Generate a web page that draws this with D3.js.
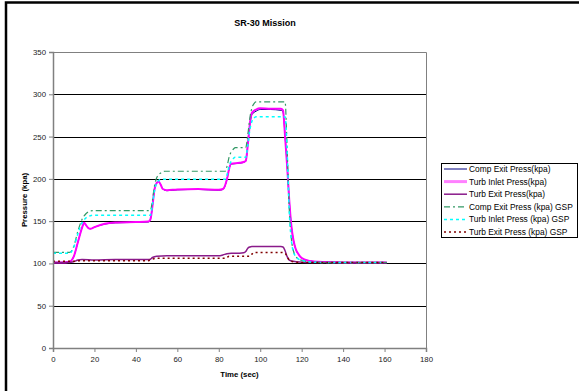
<!DOCTYPE html>
<html>
<head>
<meta charset="utf-8">
<script src="https://cdn.jsdelivr.net/npm/d3@7"></script>
<style>
  html, body { margin: 0; padding: 0; background: #fff; }
  svg { display: block; font-family: "Liberation Sans", Arial, sans-serif; }
</style>
</head>
<body>
<div id="chart"></div>
<script>
// Values
const mainTime = [0, 4, 8, 10, 12, 14, 15, 16, 17, 18, 20, 25, 30, 40, 46, 47, 48, 49, 50, 51,
	52, 53, 55, 60, 70, 80, 82, 84, 85, 86, 90, 92, 93, 94, 95, 96, 98, 100, 105, 110,
	111, 112, 113, 114, 115, 116, 117, 119, 121, 124, 128, 135, 145, 161];
const turbInlet = [101, 101, 102, 108, 125, 142, 148, 145, 142, 141, 143, 147, 148.5, 149, 149.5, 152, 168, 188, 195, 197,
	193, 188, 186.5, 187.5, 188, 187, 188, 200, 212, 218, 219, 220, 221, 240, 265, 278, 282, 283.5, 283, 283,
	281, 250, 215, 175, 145, 128, 118, 109, 105, 103, 102, 101.5, 101, 101];
const compExit = [101, 101, 102, 108, 125, 142, 147.5, 145, 142, 141, 143, 146.5, 148, 148.5, 149, 152, 168, 188, 194.5, 196.5,
	193, 188, 186, 187, 187.5, 186.5, 187.5, 200, 212, 217.5, 218.5, 219.5, 221, 240, 264, 276, 280, 282, 282, 281,
	279, 250, 215, 175, 145, 128, 118, 109, 105, 103, 102, 101.5, 101, 101];

const exitTime = [0, 6, 10, 12, 14, 20, 30, 40, 46, 47, 48, 50, 55, 70, 80, 82, 84, 86, 90, 92,
	93, 94, 95, 96, 100, 105, 110, 111, 112, 113, 114, 116, 120, 124, 130, 140, 161];
const turbExit = [101, 101, 102, 104, 104.5, 104, 104.5, 104.5, 104.5, 105, 107, 108.5, 109, 109, 109, 110, 111.5, 112, 112, 112.5,
	114, 118, 119.5, 120, 120, 120, 120, 119.5, 115, 108, 104, 102.5, 101.5, 101, 101, 101, 101];

const gspTime = [0, 8, 10, 12, 14, 16, 18, 20, 30, 47, 48, 49, 50, 51, 52, 54, 70, 83, 84, 85,
	86, 87, 88, 93, 94, 95, 96, 97, 98, 105, 112, 113, 114, 115, 116, 118, 121, 125, 135, 161];
const compExitGsp = [113, 113, 120, 138, 152, 159, 162, 162.5, 162.5, 162.5, 175, 192, 201, 205, 207, 209, 209, 209, 215, 226,
	232, 235, 237, 237, 252, 272, 284, 289, 291, 291, 291, 235, 165, 130, 115, 106, 103, 101.5, 101, 101];
const turbInletGsp = [112, 112, 119, 135, 148, 154, 156.5, 157, 157, 157, 170, 186, 195, 198, 199, 199.5, 199.5, 199.5, 205, 215,
	221, 224, 225.5, 225.5, 240, 258, 268, 272, 273.5, 273.5, 273.5, 232, 162, 128, 114, 106, 103, 101.5, 101, 101];

const exitGspTime = [0, 10, 12, 14, 46, 47, 48, 50, 83, 84, 85, 95, 96, 97, 110, 112, 113, 114, 116, 120, 125, 161];
const turbExitGsp = [102.5, 102.5, 103, 103.3, 103.3, 104, 105, 106, 106, 107, 108.5, 108.5, 111, 113, 113, 112, 108, 104, 102, 101, 101, 101];

const xTicks = [0, 20, 40, 60, 80, 100, 120, 140, 160, 180];
const yTicks = [0, 50, 100, 150, 200, 250, 300, 350];

const series = [
	{ name: "Comp Exit Press(kpa)", t: mainTime, v: compExit, color: "#000080", width: 1, dash: null },
	{ name: "Turb Inlet Press(kpa)", t: mainTime, v: turbInlet, color: "#ff00ff", width: 2, dash: null, legendColor: "#ff80ff", legendWidth: 3 },
	{ name: "Turb Exit Press(kpa)", t: exitTime, v: turbExit, color: "#8a1a8a", width: 1.5, dash: null },
	{ name: "Comp Exit Press (kpa) GSP", t: gspTime, v: compExitGsp, color: "#339966", width: 1.2, dash: "6,3,2,3" },
	{ name: "Turb Inlet Press (kpa) GSP", t: gspTime, v: turbInletGsp, color: "#00ffff", width: 1.5, dash: "3,3" },
	{ name: "Turb Exit Press (kpa) GSP", t: exitGspTime, v: turbExitGsp, color: "#800000", width: 1.5, dash: "2,3" },
];

const width = 579;
const height = 391;
const plot = { left: 53, right: 426, top: 52, bottom: 348 };

const svg = d3.select("#chart")
	.append("svg")
	.attr("width", width)
	.attr("height", height);

svg.append("rect").attr("width", width).attr("height", height).attr("fill", "#fff");

// outer chart border (cut off at right and bottom)
svg.append("rect")
	.attr("x", 6).attr("y", 2.5)
	.attr("width", 700).attr("height", 500)
	.attr("fill", "none")
	.attr("stroke", "#000")
	.attr("stroke-width", 2.5);

const x = d3.scaleLinear().domain([0, 180]).range([plot.left, plot.right]);
const y = d3.scaleLinear().domain([0, 350]).range([plot.bottom, plot.top]);

// gridlines
svg.append("g")
	.selectAll("line")
	.data(yTicks.filter((d) => d > 0 && d < 350))
	.join("line")
	.attr("x1", plot.left).attr("x2", plot.right)
	.attr("y1", (d) => Math.round(y(d)) + 0.5)
	.attr("y2", (d) => Math.round(y(d)) + 0.5)
	.attr("stroke", "#000")
	.attr("stroke-width", 1);

// plot frame (top and right)
svg.append("path")
	.attr("d", `M${plot.left},${plot.top + 0.5}H${plot.right + 0.5}V${plot.bottom}`)
	.attr("fill", "none")
	.attr("stroke", "#808080")
	.attr("stroke-width", 1);

// series
const line = d3.line()
	.x((d) => x(d[0]))
	.y((d) => y(d[1]))
	.curve(d3.curveMonotoneX);

svg.append("g")
	.selectAll("path")
	.data(series)
	.join("path")
	.attr("d", (s) => line(s.t.map((t, i) => [t, s.v[i]])))
	.attr("fill", "none")
	.attr("stroke", (s) => s.color)
	.attr("stroke-width", (s) => s.width)
	.attr("stroke-dasharray", (s) => s.dash)
	.attr("stroke-linejoin", "round");

// axes
const xAxis = svg.append("g")
	.attr("transform", `translate(0,${plot.bottom})`)
	.call(d3.axisBottom(x).tickValues(xTicks).tickSize(4).tickPadding(4));
const yAxis = svg.append("g")
	.attr("transform", `translate(${plot.left},0)`)
	.call(d3.axisLeft(y).tickValues(yTicks).tickSize(4).tickPadding(3));

[xAxis, yAxis].forEach((g) => {
	g.select(".domain").attr("stroke", "#808080").attr("stroke-width", 1.5);
	g.selectAll(".tick line").attr("stroke", "#808080");
	g.selectAll(".tick text")
		.attr("fill", "#222")
		.style("font-size", "7.8px")
		.style("font-family", "'Liberation Sans', Arial, sans-serif");
});

// titles
svg.append("text")
	.attr("x", 265).attr("y", 26)
	.attr("text-anchor", "middle")
	.style("font-size", "9px")
	.style("font-weight", "bold")
	.text("SR-30 Mission");

svg.append("text")
	.attr("x", (plot.left + plot.right) / 2).attr("y", 377)
	.attr("text-anchor", "middle")
	.style("font-size", "7.8px")
	.style("font-weight", "bold")
	.text("Time (sec)");

svg.append("text")
	.attr("transform", `translate(27,${(plot.top + plot.bottom) / 2}) rotate(-90)`)
	.attr("text-anchor", "middle")
	.style("font-size", "7.8px")
	.style("font-weight", "bold")
	.text("Pressure (kpa)");

// legend
const legend = svg.append("g").attr("transform", "translate(441,163)");
legend.append("rect")
	.attr("x", 0.5).attr("y", 0.5)
	.attr("width", 136).attr("height", 74)
	.attr("fill", "#fff")
	.attr("stroke", "#000")
	.attr("stroke-width", 1);

const item = legend.selectAll("g.item")
	.data(series)
	.join("g")
	.attr("class", "item")
	.attr("transform", (d, i) => `translate(0,${6 + i * 12.6})`);

item.append("line")
	.attr("x1", 3).attr("x2", 26)
	.attr("stroke", (s) => s.legendColor || s.color)
	.attr("stroke-width", (s) => s.legendWidth || s.width)
	.attr("stroke-dasharray", (s) => s.dash);

item.append("text")
	.attr("x", 28).attr("dy", "0.35em")
	.style("font-size", "8.4px")
	.text((s) => s.name);
</script>
</body>
</html>
